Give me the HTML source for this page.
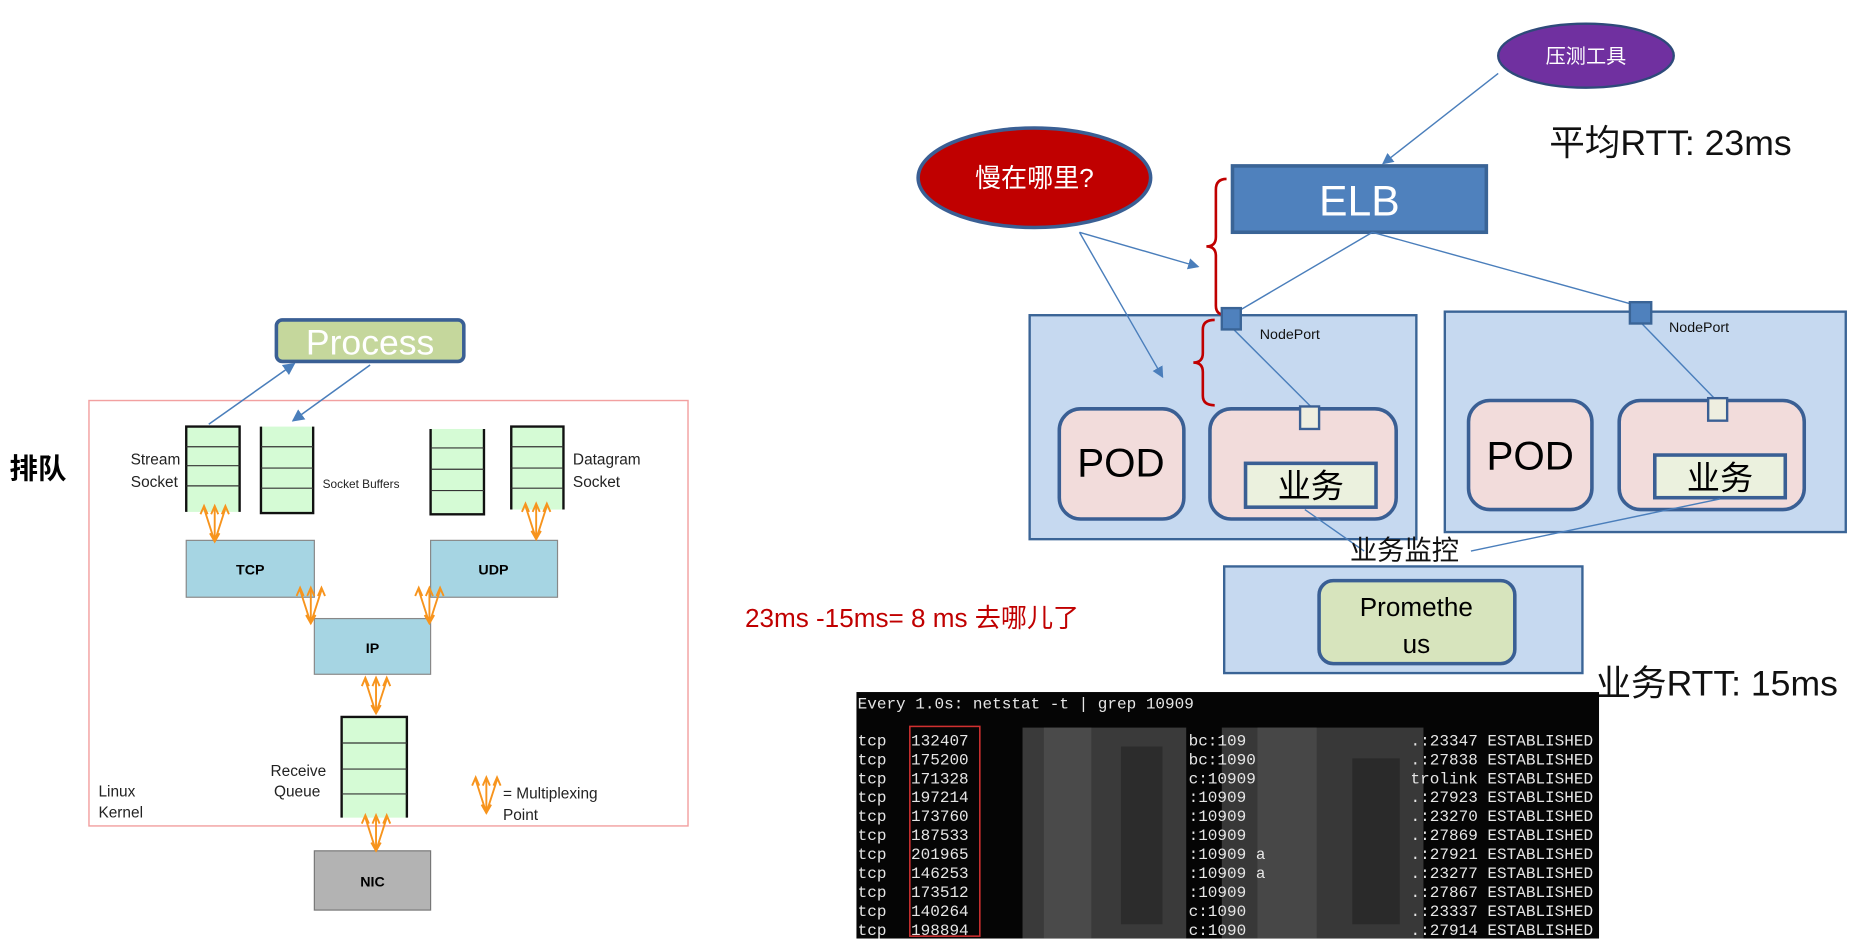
<!DOCTYPE html>
<html><head><meta charset="utf-8"><style>
html,body{margin:0;padding:0;background:#fff;}
svg{display:block;}
text{font-family:"Liberation Sans","Noto Sans CJK SC",sans-serif;}
.mono text{font-family:"Liberation Mono","DejaVu Sans Mono",monospace;}
</style></head><body>
<svg width="1860" height="948" viewBox="0 0 1568 800" preserveAspectRatio="none" xmlns="http://www.w3.org/2000/svg">
<defs>
<marker id="ab" markerWidth="8" markerHeight="8" refX="7" refY="4" orient="auto"><path d="M0,0 L8,4 L0,8 z" fill="#4a7ebb"/></marker>
<g id="fan" stroke="#f7941d" stroke-width="1.6" fill="none">
<path d="M0,30 L-9,2 M0,30 L0,2 M0,30 L9,2"/>
<path d="M-12,7 L-9,0 L-6,7 M-3,7 L0,0 L3,7 M6,7 L9,0 L12,7 M-4,23 L0,30 L4,23"/>
</g>
</defs>
<!-- LEFT -->
<text x="8" y="404" font-size="24" font-weight="bold">排队</text>
<rect x="75" y="338" width="505" height="359" fill="none" stroke="#f2a0a0" stroke-width="1.2"/>
<line x1="176" y1="358" x2="248" y2="307" stroke="#4a7ebb" stroke-width="1.3" marker-end="url(#ab)"/>
<line x1="312" y1="308" x2="247" y2="355" stroke="#4a7ebb" stroke-width="1.3" marker-end="url(#ab)"/>
<rect x="233" y="270" width="158" height="35" rx="5" fill="#c5d79c" stroke="#3a5f94" stroke-width="3"/>
<text x="312" y="299" font-size="30" fill="#fff" text-anchor="middle">Process</text>
<g stroke="#111" stroke-width="2" fill="#d5fbd5">
<rect x="157" y="360" width="45" height="72" stroke="none"/><path d="M157,432 V360 H202 V432" fill="none"/>
<rect x="220" y="360" width="44" height="73" stroke="none"/><path d="M220,360 V433 H264 V360" fill="none"/>
<rect x="363" y="362" width="45" height="72" stroke="none"/><path d="M363,362 V434 H408 V362" fill="none"/>
<rect x="431" y="360" width="44" height="70" stroke="none"/><path d="M431,430 V360 H475 V430" fill="none"/>
<rect x="288" y="605" width="55" height="85" stroke="none"/><path d="M288,690 V605 H343 V690" fill="none"/>
</g>
<g stroke="#333" stroke-width="1">
<path d="M157,377H202M157,393H202M157,410H202"/>
<path d="M220,377H264M220,395H264M220,412H264"/>
<path d="M363,378H408M363,396H408M363,414H408"/>
<path d="M431,377H475M431,395H475M431,412H475"/>
<path d="M288,627H343M288,649H343M288,670H343"/>
</g>
<text x="152" y="392" font-size="13" text-anchor="end" fill="#222">Stream</text>
<text x="150" y="411" font-size="13" text-anchor="end" fill="#222">Socket</text>
<text x="272" y="412" font-size="10" fill="#222">Socket Buffers</text>
<text x="483" y="392" font-size="13" fill="#222">Datagram</text>
<text x="483" y="411" font-size="13" fill="#222">Socket</text>
<rect x="157" y="456" width="108" height="48" fill="#a6d5e3" stroke="#888"/>
<text x="211" y="485" font-size="12" font-weight="bold" text-anchor="middle">TCP</text>
<rect x="363" y="456" width="107" height="48" fill="#a6d5e3" stroke="#888"/>
<text x="416" y="485" font-size="12" font-weight="bold" text-anchor="middle">UDP</text>
<rect x="265" y="522" width="98" height="47" fill="#a6d5e3" stroke="#888"/>
<text x="314" y="551" font-size="12" font-weight="bold" text-anchor="middle">IP</text>
<rect x="265" y="718" width="98" height="50" fill="#b3b3b3" stroke="#777"/>
<text x="314" y="748" font-size="12" font-weight="bold" text-anchor="middle">NIC</text>
<text x="275" y="655" font-size="13" text-anchor="end" fill="#222">Receive</text>
<text x="270" y="672" font-size="13" text-anchor="end" fill="#222">Queue</text>
<text x="83" y="672" font-size="13" fill="#222">Linux</text>
<text x="83" y="690" font-size="13" fill="#222">Kernel</text>
<text x="424" y="674" font-size="13" fill="#222">= Multiplexing</text>
<text x="424" y="692" font-size="13" fill="#222">Point</text>
<use href="#fan" x="181" y="427"/>
<use href="#fan" x="452" y="425"/>
<use href="#fan" x="262" y="496"/>
<use href="#fan" x="362" y="496"/>
<use href="#fan" x="317" y="572"/>
<use href="#fan" x="317" y="688"/>
<use href="#fan" x="410" y="656"/>
<!-- RIGHT -->
<ellipse cx="1337" cy="47" rx="74" ry="27" fill="#7030a0" stroke="#2e4a7a" stroke-width="2"/>
<text x="1337" y="53" font-size="17" fill="#fff" text-anchor="middle">压测工具</text>
<line x1="1263" y1="62" x2="1166" y2="138" stroke="#4a7ebb" stroke-width="1.2" marker-end="url(#ab)"/>
<text x="1306" y="131" font-size="30" fill="#111">平均RTT: 23ms</text>
<rect x="868" y="266" width="326" height="189" fill="#c6d9f0" stroke="#3a6496" stroke-width="2"/>
<rect x="1218" y="263" width="338" height="186" fill="#c6d9f0" stroke="#3a6496" stroke-width="2"/>
<rect x="1032" y="478" width="302" height="90" fill="#c6d9f0" stroke="#3a6496" stroke-width="2"/>
<ellipse cx="872" cy="150" rx="98" ry="42" fill="#c00000" stroke="#3a5f94" stroke-width="3"/>
<text x="872" y="158" font-size="22" fill="#fff" text-anchor="middle">慢在哪里?</text>
<line x1="910" y1="196" x2="1010" y2="225" stroke="#4a7ebb" stroke-width="1.2" marker-end="url(#ab)"/>
<line x1="910" y1="196" x2="980" y2="318" stroke="#4a7ebb" stroke-width="1.2" marker-end="url(#ab)"/>
<rect x="1039" y="140" width="214" height="56" fill="#4f81bd" stroke="#3a6496" stroke-width="3"/>
<text x="1146" y="182" font-size="36" fill="#fff" text-anchor="middle">ELB</text>
<path d="M1034,151 Q1025,151 1025,160 V200 Q1025,208 1017,208 Q1025,208 1025,216 V258 Q1025,266 1034,266" fill="none" stroke="#c00000" stroke-width="2.2"/>
<path d="M1024,270 Q1014,270 1014,278 V298 Q1014,306 1006,306 Q1014,306 1014,314 V334 Q1014,342 1024,342" fill="none" stroke="#c00000" stroke-width="2.2"/>
<line x1="1157" y1="196" x2="1038" y2="266" stroke="#4a7ebb" stroke-width="1.2"/>
<line x1="1157" y1="196" x2="1384" y2="259" stroke="#4a7ebb" stroke-width="1.2"/>
<line x1="1038" y1="276" x2="1105" y2="343" stroke="#4a7ebb" stroke-width="1.2"/>
<line x1="1384" y1="273" x2="1447" y2="338" stroke="#4a7ebb" stroke-width="1.2"/>
<rect x="1030" y="260" width="16" height="18" fill="#4f81bd" stroke="#3a6496" stroke-width="2"/>
<rect x="1374" y="255" width="18" height="18" fill="#4f81bd" stroke="#3a6496" stroke-width="2"/>
<text x="1062" y="286" font-size="12" fill="#111">NodePort</text>
<text x="1407" y="280" font-size="12" fill="#111">NodePort</text>
<g fill="#f2dcdb" stroke="#3a5f94" stroke-width="3">
<rect x="893" y="345" width="105" height="93" rx="18"/>
<rect x="1020" y="345" width="157" height="93" rx="18"/>
<rect x="1238" y="338" width="104" height="92" rx="18"/>
<rect x="1365" y="338" width="156" height="92" rx="18"/>
</g>
<rect x="1096" y="343" width="16" height="19" fill="#eeeee0" stroke="#3a5f94" stroke-width="2"/>
<rect x="1440" y="336" width="16" height="19" fill="#eeeee0" stroke="#3a5f94" stroke-width="2"/>
<text x="945" y="402" font-size="34" text-anchor="middle">POD</text>
<text x="1290" y="396" font-size="34" text-anchor="middle">POD</text>
<rect x="1050" y="391" width="110" height="37" fill="#ebf1de" stroke="#3a5f94" stroke-width="3"/>
<rect x="1395" y="384" width="110" height="36" fill="#ebf1de" stroke="#3a5f94" stroke-width="3"/>
<text x="1105" y="420" font-size="28" text-anchor="middle">业务</text>
<text x="1450" y="413" font-size="28" text-anchor="middle">业务</text>
<line x1="1100" y1="430" x2="1150" y2="465" stroke="#4a7ebb" stroke-width="1.2"/>
<line x1="1450" y1="421" x2="1240" y2="465" stroke="#4a7ebb" stroke-width="1.2"/>
<text x="1138" y="472" font-size="23" fill="#111">业务监控</text>
<rect x="1112" y="490" width="165" height="70" rx="12" fill="#d7e4bd" stroke="#3a5f94" stroke-width="3"/>
<text x="1194" y="520" font-size="22" text-anchor="middle">Promethe</text>
<text x="1194" y="551" font-size="22" text-anchor="middle">us</text>
<text x="1345" y="587" font-size="30" fill="#111">业务RTT: 15ms</text>
<text x="628" y="529" font-size="22" fill="#c00000">23ms -15ms= 8 ms 去哪儿了</text>
<!-- terminal -->
<rect x="722" y="584" width="626" height="208" fill="#050505"/>
<rect x="862" y="614" width="138" height="178" fill="#3a3a3a"/>
<rect x="880" y="614" width="40" height="178" fill="#4a4a4a"/>
<rect x="945" y="630" width="35" height="150" fill="#2c2c2c"/>
<rect x="1030" y="614" width="170" height="178" fill="#383838"/>
<rect x="1060" y="614" width="50" height="178" fill="#474747"/>
<rect x="1140" y="640" width="40" height="140" fill="#2a2a2a"/>
<rect x="767" y="613" width="59" height="177" fill="none" stroke="#d03030" stroke-width="1.3"/>
<g class="mono" font-size="13.5" fill="#e6e6e6">
<text x="723" y="598">Every 1.0s: netstat -t | grep 10909</text>
<text x="723" y="629">tcp</text><text x="768" y="629">132407</text><text x="1002" y="629">bc:109</text><text x="1343" y="629" text-anchor="end">.:23347 ESTABLISHED</text>
<text x="723" y="645">tcp</text><text x="768" y="645">175200</text><text x="1002" y="645">bc:1090</text><text x="1343" y="645" text-anchor="end">.:27838 ESTABLISHED</text>
<text x="723" y="661">tcp</text><text x="768" y="661">171328</text><text x="1002" y="661">c:10909</text><text x="1343" y="661" text-anchor="end">trolink ESTABLISHED</text>
<text x="723" y="677">tcp</text><text x="768" y="677">197214</text><text x="1002" y="677">:10909</text><text x="1343" y="677" text-anchor="end">.:27923 ESTABLISHED</text>
<text x="723" y="693">tcp</text><text x="768" y="693">173760</text><text x="1002" y="693">:10909</text><text x="1343" y="693" text-anchor="end">.:23270 ESTABLISHED</text>
<text x="723" y="709">tcp</text><text x="768" y="709">187533</text><text x="1002" y="709">:10909</text><text x="1343" y="709" text-anchor="end">.:27869 ESTABLISHED</text>
<text x="723" y="725">tcp</text><text x="768" y="725">201965</text><text x="1002" y="725">:10909 a</text><text x="1343" y="725" text-anchor="end">.:27921 ESTABLISHED</text>
<text x="723" y="741">tcp</text><text x="768" y="741">146253</text><text x="1002" y="741">:10909 a</text><text x="1343" y="741" text-anchor="end">.:23277 ESTABLISHED</text>
<text x="723" y="757">tcp</text><text x="768" y="757">173512</text><text x="1002" y="757">:10909</text><text x="1343" y="757" text-anchor="end">.:27867 ESTABLISHED</text>
<text x="723" y="773">tcp</text><text x="768" y="773">140264</text><text x="1002" y="773">c:1090</text><text x="1343" y="773" text-anchor="end">.:23337 ESTABLISHED</text>
<text x="723" y="789">tcp</text><text x="768" y="789">198894</text><text x="1002" y="789">c:1090</text><text x="1343" y="789" text-anchor="end">.:27914 ESTABLISHED</text>
</g>
</svg>
</body></html>
